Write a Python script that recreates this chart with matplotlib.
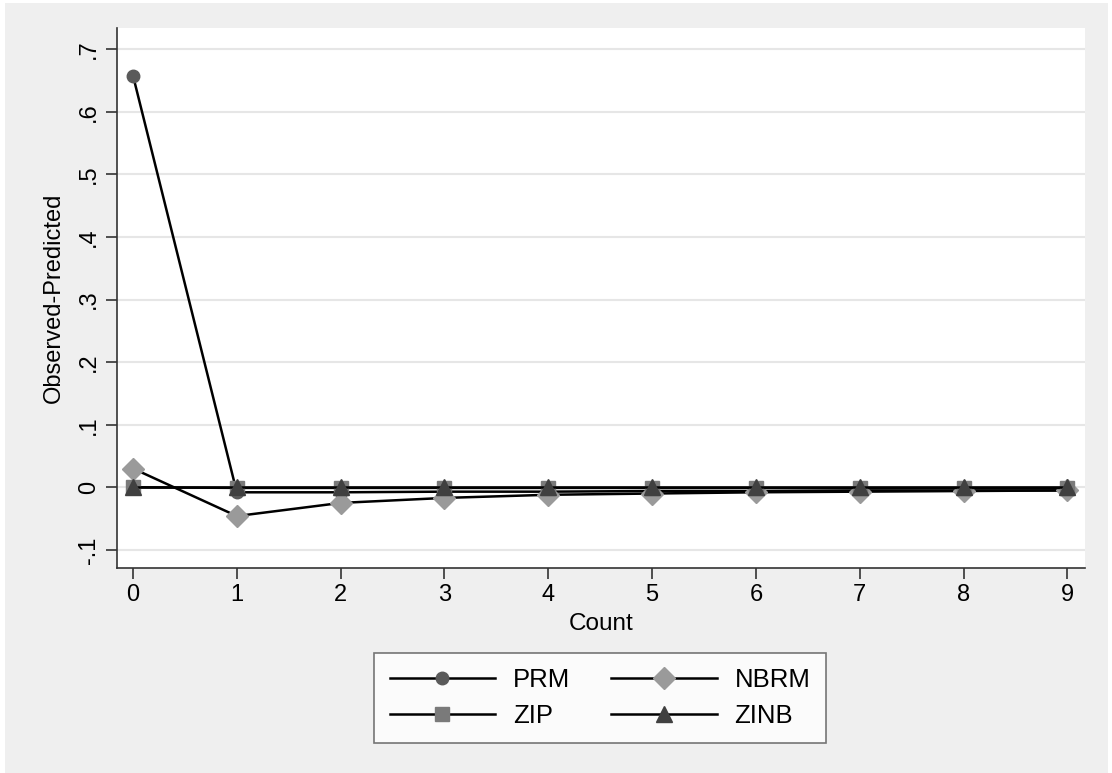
import matplotlib
matplotlib.use("Agg")
import matplotlib.pyplot as plt
from matplotlib.patches import Rectangle

# data
count = [0, 1, 2, 3, 4, 5, 6, 7, 8, 9]
prm = [0.658, -0.008, -0.008, -0.007, -0.007, -0.006, -0.006, -0.005, -0.005, -0.005]
nbrm = [0.030, -0.046, -0.025, -0.017, -0.012, -0.010, -0.008, -0.007, -0.006, -0.005]
zip_ = [0.000, -0.001, -0.001, -0.001, -0.001, -0.001, -0.001, -0.001, -0.001, -0.001]
zinb = [0.000, 0.000, 0.000, 0.000, 0.000, 0.000, 0.000, 0.000, 0.000, 0.000]
yticks = [-0.1, 0, 0.1, 0.2, 0.3, 0.4, 0.5, 0.6, 0.7]
ylabels = ["-.1", "0", ".1", ".2", ".3", ".4", ".5", ".6", ".7"]

plt.rcParams['font.family'] = ['Liberation Sans', 'DejaVu Sans']

fig = plt.figure(figsize=(11.12, 7.73), dpi=100, facecolor="white")
# gray Stata-like background
fig.patches.append(Rectangle((5 / 1112, 0), 1103 / 1112, 770 / 773,
                             transform=fig.transFigure, facecolor="#efefef",
                             edgecolor="none", zorder=-10))

ax = fig.add_axes([117 / 1112, 1 - 568 / 773, 968 / 1112, 540 / 773])
ax.set_facecolor("white")

l1, = ax.plot(count, prm, color="black", lw=1.8, marker="o", ms=9,
              mfc="#5a5a5a", mec="#5a5a5a", label="PRM", zorder=3)
l2, = ax.plot(count, nbrm, color="black", lw=1.8, marker="D", ms=11,
              mfc="#9a9a9a", mec="#9a9a9a", label="NBRM", zorder=3)
l3, = ax.plot(count, zip_, color="black", lw=1.8, marker="s", ms=10,
              mfc="#7a7a7a", mec="#7a7a7a", label="ZIP", zorder=3)
l4, = ax.plot(count, zinb, color="black", lw=1.8, marker="^", ms=11,
              mfc="#404040", mec="#404040", label="ZINB", zorder=3)

ax.set_xlim(-0.154, 9.17)
ax.set_ylim(-0.129, 0.734)
ax.set_xticks(count)
ax.set_yticks(yticks)
ax.set_yticklabels(ylabels, rotation=90, va="center")
ax.tick_params(axis="both", labelsize=17, length=8, width=1.2, color="#333333")
ax.tick_params(axis="y", pad=4)
ax.grid(axis="y", color="#e6e6e6", lw=1.5, zorder=0)
ax.set_axisbelow(True)
for s in ["top", "right"]:
    ax.spines[s].set_visible(False)
for s in ["left", "bottom"]:
    ax.spines[s].set_color("#333333")
    ax.spines[s].set_linewidth(1.2)

ax.set_xlabel("Count", fontsize=17.5, labelpad=5)
ax.set_ylabel("Observed-Predicted", fontsize=17, labelpad=10)

# row-major order like the original: PRM NBRM / ZIP ZINB
leg = fig.legend([l1, l3, l2, l4], ["PRM", "ZIP", "NBRM", "ZINB"],
                 loc="center", bbox_to_anchor=(600 / 1112, 1 - 698 / 773),
                 ncol=2, fontsize=18.5, frameon=True, fancybox=False,
                 handlelength=4.1, columnspacing=1.6, borderpad=0.6,
                 labelspacing=0.45, handletextpad=0.7)
leg.get_frame().set_edgecolor("#555555")
leg.get_frame().set_linewidth(1.2)

fig.savefig("out.png", dpi=100, facecolor=fig.get_facecolor())
